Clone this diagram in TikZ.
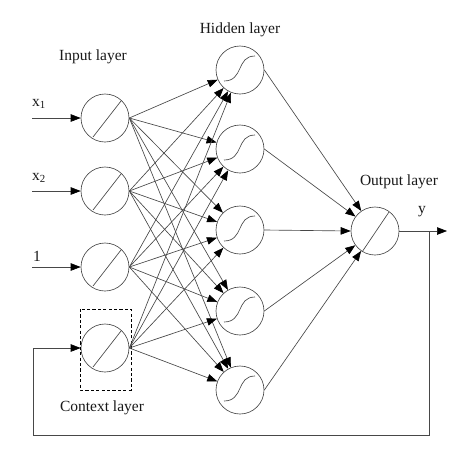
\documentclass[tikz,border=0pt]{standalone}
\usepackage{fontspec}
\setmainfont{Liberation Serif}
\usetikzlibrary{arrows.meta}
\begin{document}
\begin{tikzpicture}[x=1pt,y=-1pt,
  wire/.style={draw=black!72, line width=0.65pt},
  arr/.style={wire, -{Triangle[length=10pt,width=7.5pt,color=black]}},
  neuron/.style={circle, draw=black!72, line width=0.65pt, minimum size=48pt, inner sep=0pt},
  lbl/.style={font=\fontsize{15.5}{18}\selectfont, text=black!90, inner sep=0pt}]
\useasboundingbox (0,0) rectangle (474,448);
% input layer
\node[neuron] (i1) at (105,118) {};
\node[neuron] (i2) at (105,191) {};
\node[neuron] (i3) at (105,267) {};
\node[neuron] (i4) at (105,348) {};
% hidden layer
\node[neuron] (h1) at (240,70) {};
\node[neuron] (h2) at (240,149) {};
\node[neuron] (h3) at (240,230) {};
\node[neuron] (h4) at (240,311) {};
\node[neuron] (h5) at (240,390) {};
% output
\node[neuron] (o) at (375,231) {};
% activation symbols
\foreach \n in {i1,i2,i3,i4}{
  \draw[wire, shift={(\n.center)}] (-12,19) -- (16,-17);
}
\draw[wire, shift={(o.center)}] (-13,21) -- (14,-19);
\foreach \n in {h1,h2,h3,h4,h5}{
  \draw[wire, shift={(\n.center)}] (-16,11) .. controls (4,11) and (-4,-14) .. (15,-14);
}
% context box
\draw[line width=0.9pt, dash pattern=on 3.2pt off 2.2pt] (80,309) rectangle (131,390);
% labels
\node[lbl] (tin) at (93,57) {Input layer};
\node[lbl] (thid) at (240,30) {Hidden layer};
\node[lbl] (tout) at (399,182) {Output layer};
\node[lbl] (tctx) at (102,408) {Context layer};
\node[lbl, anchor=west] (tx1) at (32,104) {x\textsubscript{1}};
\node[lbl, anchor=west] (tx2) at (32,178) {x\textsubscript{2}};
\node[lbl, anchor=west] (tone) at (33,256) {1};
\node[lbl] (ty) at (422,212) {y};
% inputs
\coordinate (s1) at (32,118);
\coordinate (s2) at (32,191);
\coordinate (s3) at (32,267);
\draw[arr] (s1) -- (i1.west);
\draw[arr] (s2) -- (i2.west);
\draw[arr] (s3) -- (i3.west);
% input to hidden
\foreach \i in {i1,i2,i3,i4}{
  \foreach \h in {h1,h2,h3,h4,h5}{
    \draw[arr] (\i.east) -- (\h);
  }
}
% hidden to output
\draw[arr] (h1.east) -- (o);
\draw[arr] (h2.east) -- (o);
\draw[arr] (h3.east) -- (o.west);
\draw[arr] (h4.east) -- (o);
\draw[arr] (h5.east) -- (o);
% output and feedback
\coordinate (yend) at (447,231);
\coordinate (fb) at (429,231);
\coordinate (fb1) at (429,435);
\coordinate (fb2) at (33,435);
\coordinate (fb3) at (33,348);
\draw[arr] (o.east) -- (yend);
\draw[arr] (fb) -- (fb1) -- (fb2) -- (fb3) -- (i4.west);
\end{tikzpicture}
\end{document}
